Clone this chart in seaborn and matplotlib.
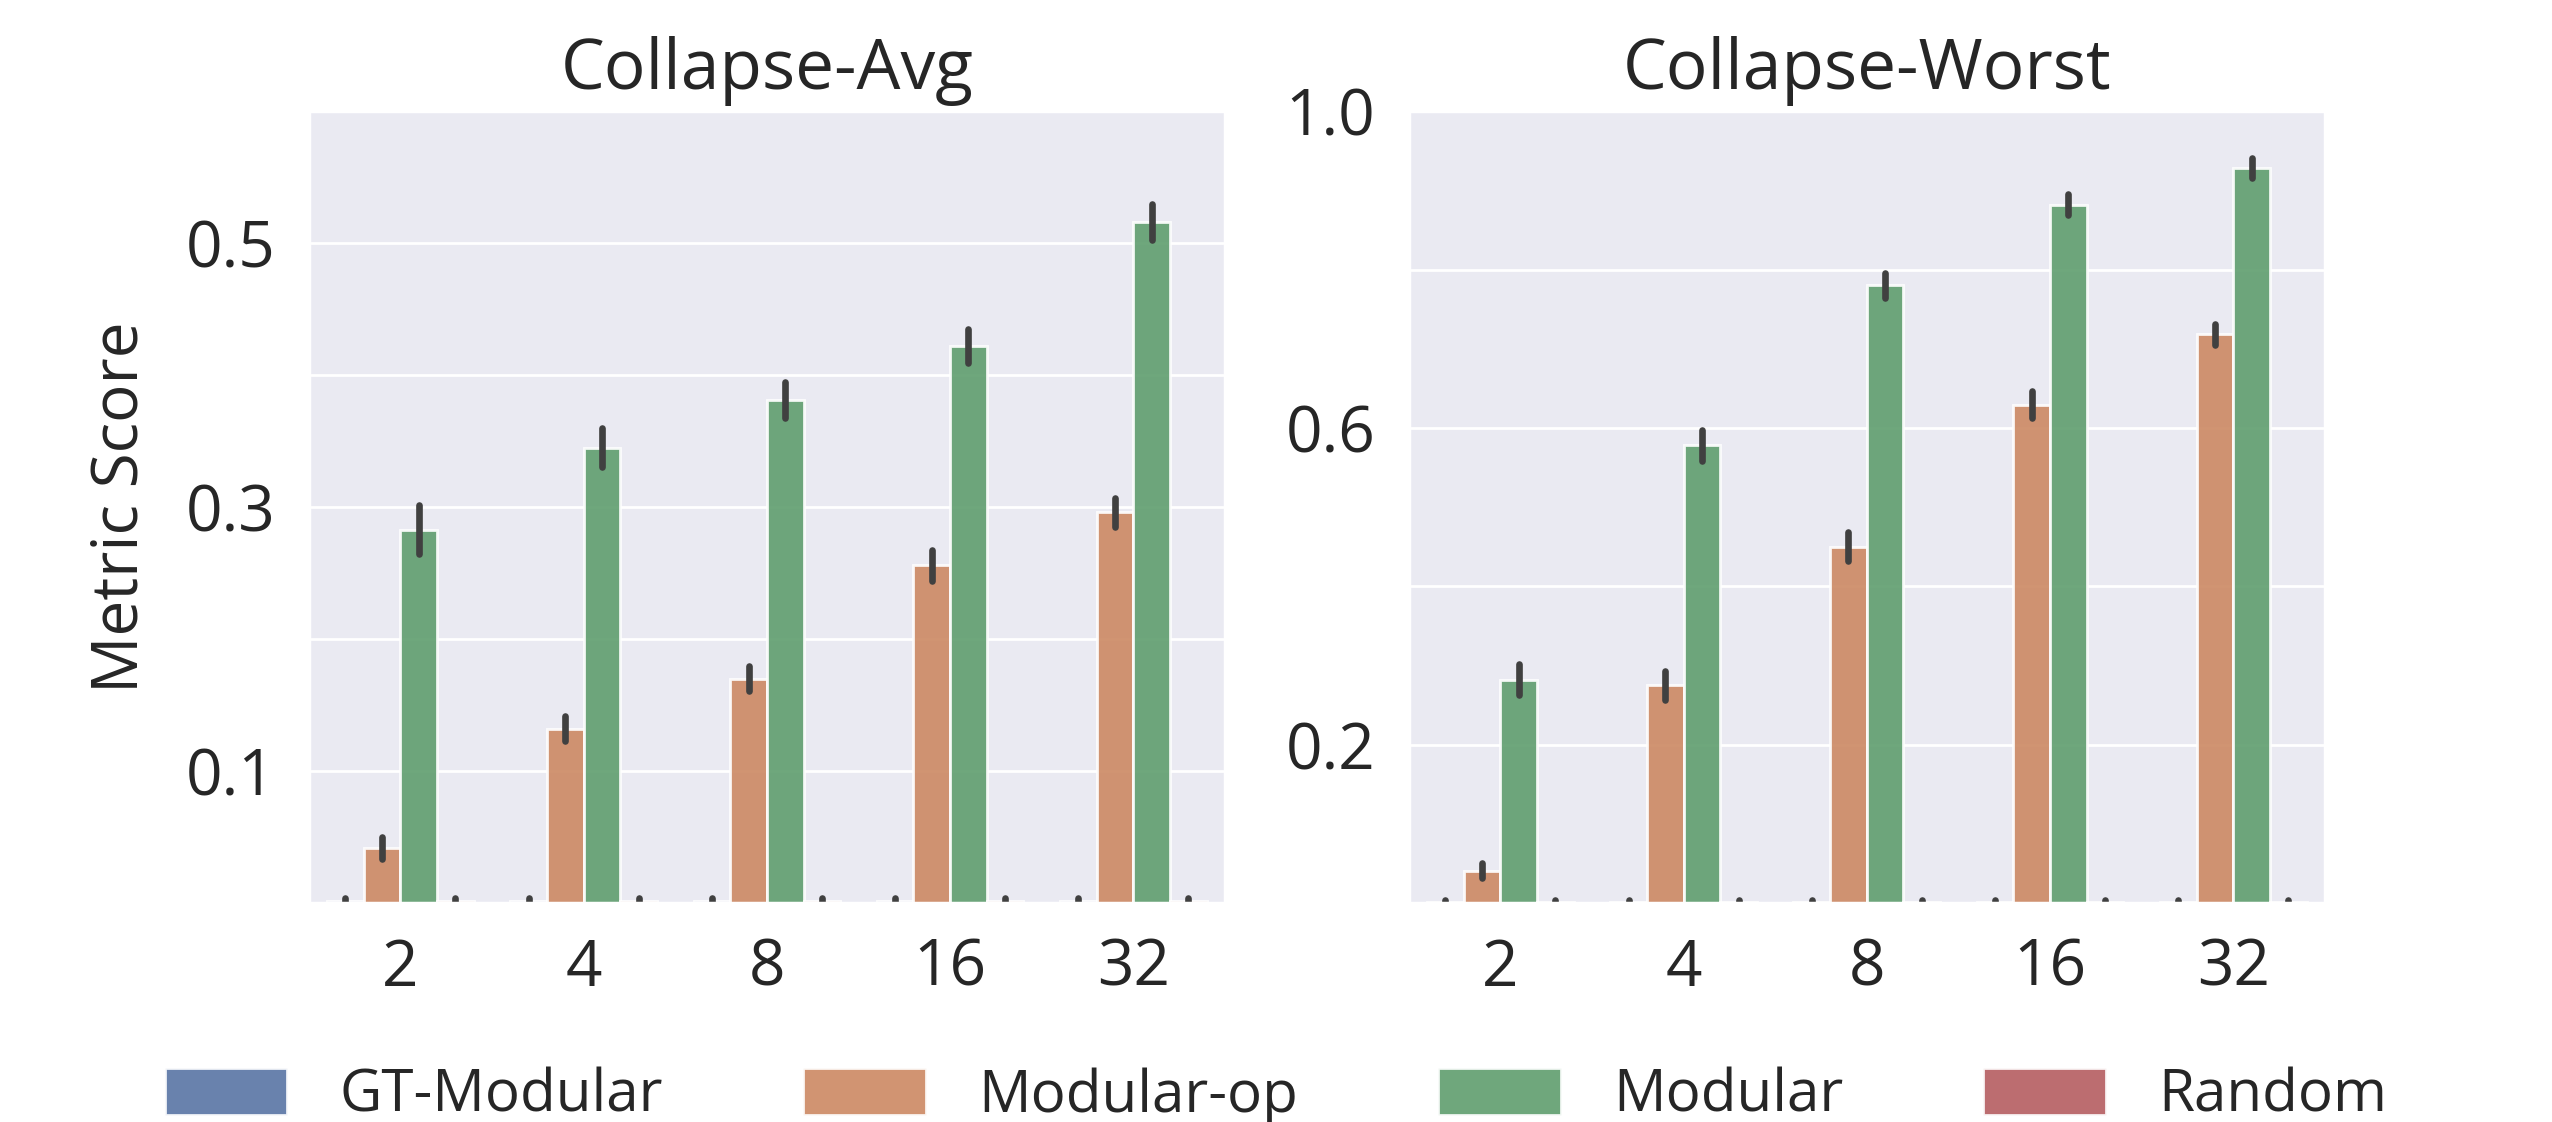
import numpy as np
import pandas as pd
import seaborn as sns
import matplotlib.pyplot as plt

# group sizes on the x axis
k_values = ["2", "4", "8", "16", "32"]
methods = ["GT-Modular", "Modular-op", "Modular", "Random"]

# Collapse-Avg: bar heights and error half-widths
avg_gt = [0.002, 0.002, 0.002, 0.002, 0.002]
avg_gt_err = [0.002, 0.002, 0.002, 0.002, 0.002]
avg_op = [0.042, 0.132, 0.170, 0.256, 0.296]
avg_op_err = [0.0085, 0.0095, 0.0093, 0.0116, 0.0112]
avg_mod = [0.283, 0.345, 0.381, 0.422, 0.516]
avg_mod_err = [0.0184, 0.0147, 0.0136, 0.0126, 0.0133]
avg_rand = [0.002, 0.002, 0.002, 0.002, 0.002]
avg_rand_err = [0.002, 0.002, 0.002, 0.002, 0.002]

# Collapse-Worst
worst_gt = [0.002, 0.002, 0.002, 0.002, 0.002]
worst_gt_err = [0.002, 0.002, 0.002, 0.002, 0.002]
worst_op = [0.041, 0.275, 0.450, 0.629, 0.718]
worst_op_err = [0.0096, 0.018, 0.018, 0.017, 0.013]
worst_mod = [0.282, 0.578, 0.780, 0.882, 0.928]
worst_mod_err = [0.0197, 0.0194, 0.016, 0.0137, 0.0127]
worst_rand = [0.002, 0.002, 0.002, 0.002, 0.002]
worst_rand_err = [0.002, 0.002, 0.002, 0.002, 0.002]


def to_long(series):
    # each bar -> two observations (mean - err, mean + err); the 0-100 percentile
    # interval of those reproduces the error bar, their mean the bar height
    rows = []
    for method, (means, errs) in zip(methods, series):
        for k, m, e in zip(k_values, means, errs):
            rows.append({"k": k, "method": method, "score": m - e})
            rows.append({"k": k, "method": method, "score": m + e})
    return pd.DataFrame(rows)


df_avg = to_long([(avg_gt, avg_gt_err), (avg_op, avg_op_err),
                  (avg_mod, avg_mod_err), (avg_rand, avg_rand_err)])
df_worst = to_long([(worst_gt, worst_gt_err), (worst_op, worst_op_err),
                    (worst_mod, worst_mod_err), (worst_rand, worst_rand_err)])

sns.set_theme(style="darkgrid", palette="deep")
plt.rcParams["font.family"] = ["Open Sans", "DejaVu Sans"]

fig = plt.figure(figsize=(12.76, 5.61), dpi=200)
ax1 = fig.add_axes([0.121, 0.195, 0.359, 0.706])
ax2 = fig.add_axes([0.552, 0.195, 0.359, 0.706])

panels = [
    (ax1, df_avg, "Collapse-Avg", (0, 0.6), [0.1, 0.2, 0.3, 0.4, 0.5], ["0.1", "", "0.3", "", "0.5"]),
    (ax2, df_worst, "Collapse-Worst", (0, 1.0), [0.2, 0.4, 0.6, 0.8, 1.0], ["0.2", "", "0.6", "", "1.0"]),
]

for ax, df, title, ylim, yticks, ylabels in panels:
    sns.barplot(data=df, x="k", y="score", hue="method", order=k_values, hue_order=methods,
                errorbar=("pi", 100), alpha=0.9,
                err_kws={"linewidth": 2.4, "color": ".25", "solid_capstyle": "round"},
                ax=ax)
    ax.set_title(title, fontsize=25, pad=8)
    ax.set_ylim(*ylim)
    ax.set_yticks(yticks)
    ax.set_yticklabels(ylabels)
    ax.tick_params(axis="both", labelsize=23, pad=6)
    ax.set_xlabel("")
    ax.set_ylabel("")
    handles, labels = ax.get_legend_handles_labels()
    ax.get_legend().remove()

ax1.set_ylabel("Metric Score", fontsize=23, labelpad=12)

fig.legend(handles, labels, loc="lower center", ncol=4, frameon=False,
           fontsize=21, handlelength=2.1, handleheight=0.85, handletextpad=0.9,
           columnspacing=2.4, bbox_to_anchor=(0.5, -0.05))

fig.savefig("out.png", dpi=200)
